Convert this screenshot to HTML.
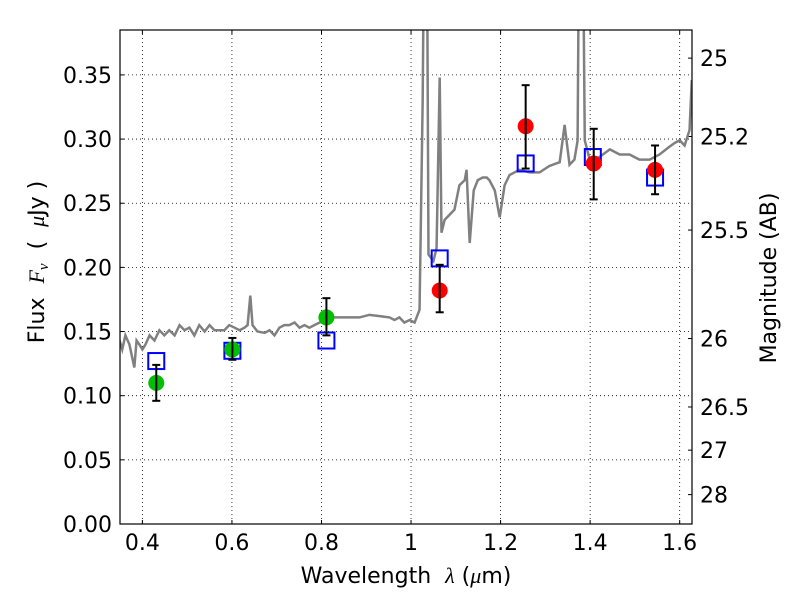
<!DOCTYPE html>
<html><head><meta charset="utf-8"><style>
body{margin:0;background:#fff;}
svg text{font-family:"DejaVu Sans","Liberation Sans",sans-serif;white-space:pre;}
</style></head><body>
<svg id="c" width="800" height="600" xmlns="http://www.w3.org/2000/svg"></svg>
<script>
const specWl=[0.349,0.355,0.362,0.371,0.382,0.387,0.393,0.400,0.407,0.416,0.427,0.438,0.449,0.460,0.472,0.483,0.494,0.505,0.516,0.527,0.539,0.550,0.561,0.572,0.583,0.594,0.606,0.617,0.628,0.635,0.641,0.646,0.657,0.673,0.684,0.695,0.706,0.717,0.728,0.740,0.751,0.762,0.773,0.784,0.796,0.818,0.840,0.863,0.885,0.907,0.930,0.952,0.963,0.974,0.985,0.997,1.008,1.019,1.026,1.030,1.035,1.039,1.050,1.057,1.064,1.068,1.075,1.086,1.097,1.108,1.120,1.124,1.131,1.140,1.149,1.160,1.169,1.175,1.187,1.198,1.209,1.220,1.231,1.242,1.265,1.287,1.309,1.332,1.343,1.354,1.365,1.372,1.376,1.383,1.388,1.399,1.421,1.444,1.466,1.488,1.510,1.533,1.555,1.577,1.589,1.600,1.611,1.622,1.627];
const specFlux=[0.143,0.136,0.147,0.140,0.122,0.143,0.140,0.136,0.140,0.147,0.143,0.151,0.147,0.151,0.147,0.155,0.151,0.153,0.147,0.155,0.150,0.155,0.151,0.151,0.151,0.155,0.153,0.151,0.153,0.155,0.178,0.155,0.150,0.149,0.151,0.147,0.153,0.155,0.155,0.157,0.153,0.155,0.153,0.155,0.157,0.161,0.161,0.161,0.161,0.163,0.162,0.161,0.159,0.161,0.157,0.159,0.157,0.167,0.330,0.500,0.500,0.210,0.205,0.215,0.348,0.227,0.237,0.241,0.245,0.264,0.268,0.276,0.219,0.260,0.268,0.270,0.270,0.268,0.260,0.239,0.264,0.272,0.274,0.276,0.274,0.274,0.279,0.282,0.311,0.280,0.284,0.299,0.500,0.500,0.299,0.284,0.286,0.292,0.288,0.288,0.284,0.284,0.288,0.294,0.297,0.299,0.295,0.307,0.346];
const greenWl=[0.431,0.601,0.811];
const greenFlux=[0.110,0.136,0.161];
const greenLo=[0.096,0.128,0.147];
const greenHi=[0.124,0.145,0.176];
const redWl=[1.064,1.256,1.408,1.545];
const redFlux=[0.182,0.310,0.281,0.276];
const redLo=[0.165,0.277,0.253,0.257];
const redHi=[0.202,0.342,0.308,0.295];
const boxWl=[0.431,0.601,0.811,1.064,1.256,1.406,1.545];
const boxFlux=[0.127,0.135,0.143,0.207,0.281,0.286,0.270];
const xTicks=[0.4,0.6,0.8,1.0,1.2,1.4,1.6];
const xTickLabels=["0.4","0.6","0.8","1","1.2","1.4","1.6"];
const yTicks=[0,0.05,0.10,0.15,0.20,0.25,0.30,0.35];
const yTickLabels=["0.00","0.05","0.10","0.15","0.20","0.25","0.30","0.35"];
const magTicks=[25,25.2,25.5,26,26.5,27,28];
const magTickLabels=["25","25.2","25.5","26","26.5","27","28"];

const L=120,R=692,T=30,B=524,X0=0.35,X1=1.6275,Y0=0,Y1=0.385;
const sx=v=>L+(v-X0)/(X1-X0)*(R-L);
const sy=v=>B-(v-Y0)/(Y1-Y0)*(B-T);
const svg=document.getElementById('c');
const NS='http://www.w3.org/2000/svg';
function mk(tag,attrs,parent){const e=document.createElementNS(NS,tag);for(const k in attrs)e.setAttribute(k,attrs[k]);(parent||svg).appendChild(e);return e;}
const defs=mk('defs',{});
const cp=mk('clipPath',{id:'clip'},defs);mk('rect',{x:L,y:T,width:R-L,height:B-T},cp);

const grid=mk('g',{});


xTicks.forEach((v,i)=>{
  const x=sx(v);
  mk('line',{x1:x,x2:x,y1:T,y2:B,stroke:'#000','stroke-width':0.8,'stroke-dasharray':'1,3'},grid);
  mk('line',{x1:x,x2:x,y1:B,y2:B-4,stroke:'#000'},grid);
  mk('line',{x1:x,x2:x,y1:T,y2:T+4,stroke:'#000'},grid);
  const t=mk('text',{x:x,y:B+26,'text-anchor':'middle','font-size':22});
  t.textContent=xTickLabels[i];
  
  
});
yTicks.forEach((v,i)=>{
  const y=sy(v);
  mk('line',{x1:L,x2:R,y1:y,y2:y,stroke:'#000','stroke-width':0.8,'stroke-dasharray':'1,3'},grid);
  mk('line',{x1:L,x2:L+4,y1:y,y2:y,stroke:'#000'},grid);
  const t=mk('text',{x:L-8,y:y+8,'text-anchor':'end','font-size':22});
  t.textContent=yTickLabels[i];
  
  
});
magTicks.forEach((m,i)=>{
  const f=Math.pow(10,(23.9-m)/2.5);
  const y=sy(f);
  mk('line',{x1:R,x2:R-4,y1:y,y2:y,stroke:'#000'},grid);
  const t=mk('text',{x:R+8,y:y+8,'text-anchor':'start','font-size':22});
  t.textContent=magTickLabels[i];
  
  
});

const plot=mk('g',{'clip-path':'url(#clip)'});
const sp=mk('polyline',{points:specWl.map((w,i)=>sx(w)+','+sy(specFlux[i])).join(' '),fill:'none',stroke:'#808080','stroke-width':2.5},plot);



boxWl.forEach((w,i)=>{
  const r=mk('rect',{x:sx(w)-8,y:sy(boxFlux[i])-8,width:16,height:16,fill:'none',stroke:'#0000ff','stroke-width':2},plot);
  
  
});
function pts(wl,fl,lo,hi,col,name){
  wl.forEach((w,i)=>{
    const x=sx(w);
    const c=mk('circle',{cx:x,cy:sy(fl[i]),r:8,fill:col},plot);
    
    
    const g=mk('g',{stroke:'#000','stroke-width':2},plot);
    
    
    mk('line',{x1:x,x2:x,y1:sy(lo[i]),y2:sy(hi[i])},g);
    mk('line',{x1:x-4,x2:x+4,y1:sy(lo[i]),y2:sy(lo[i])},g);
    mk('line',{x1:x-4,x2:x+4,y1:sy(hi[i]),y2:sy(hi[i])},g);
  });
}
pts(greenWl,greenFlux,greenLo,greenHi,'#00bf00','green-point');
pts(redWl,redFlux,redLo,redHi,'#ff0000','red-point');

const fr=mk('rect',{x:L,y:T,width:R-L,height:B-T,fill:'none',stroke:'#000','stroke-width':1.2});



const xl=mk('text',{x:406,y:583,'text-anchor':'middle','font-size':22});
xl.innerHTML='Wavelength  <tspan font-family="Liberation Serif" font-style="italic">λ</tspan> (<tspan font-family="Liberation Serif" font-style="italic">μ</tspan>m)';


const yl=mk('text',{x:0,y:0,'text-anchor':'middle','font-size':22,transform:'translate(44,262) rotate(-90)'});
yl.innerHTML='Flux  <tspan font-family="Liberation Serif" font-style="italic">F<tspan font-size="15" dy="4">ν</tspan></tspan><tspan dy="-4">  (  </tspan><tspan font-family="Liberation Serif" font-style="italic">μ</tspan>Jy )';


const rl=mk('text',{x:0,y:0,'text-anchor':'middle','font-size':22,transform:'translate(776,278) rotate(-90)'});
rl.textContent='Magnitude (AB)';


</script>
</body></html>
